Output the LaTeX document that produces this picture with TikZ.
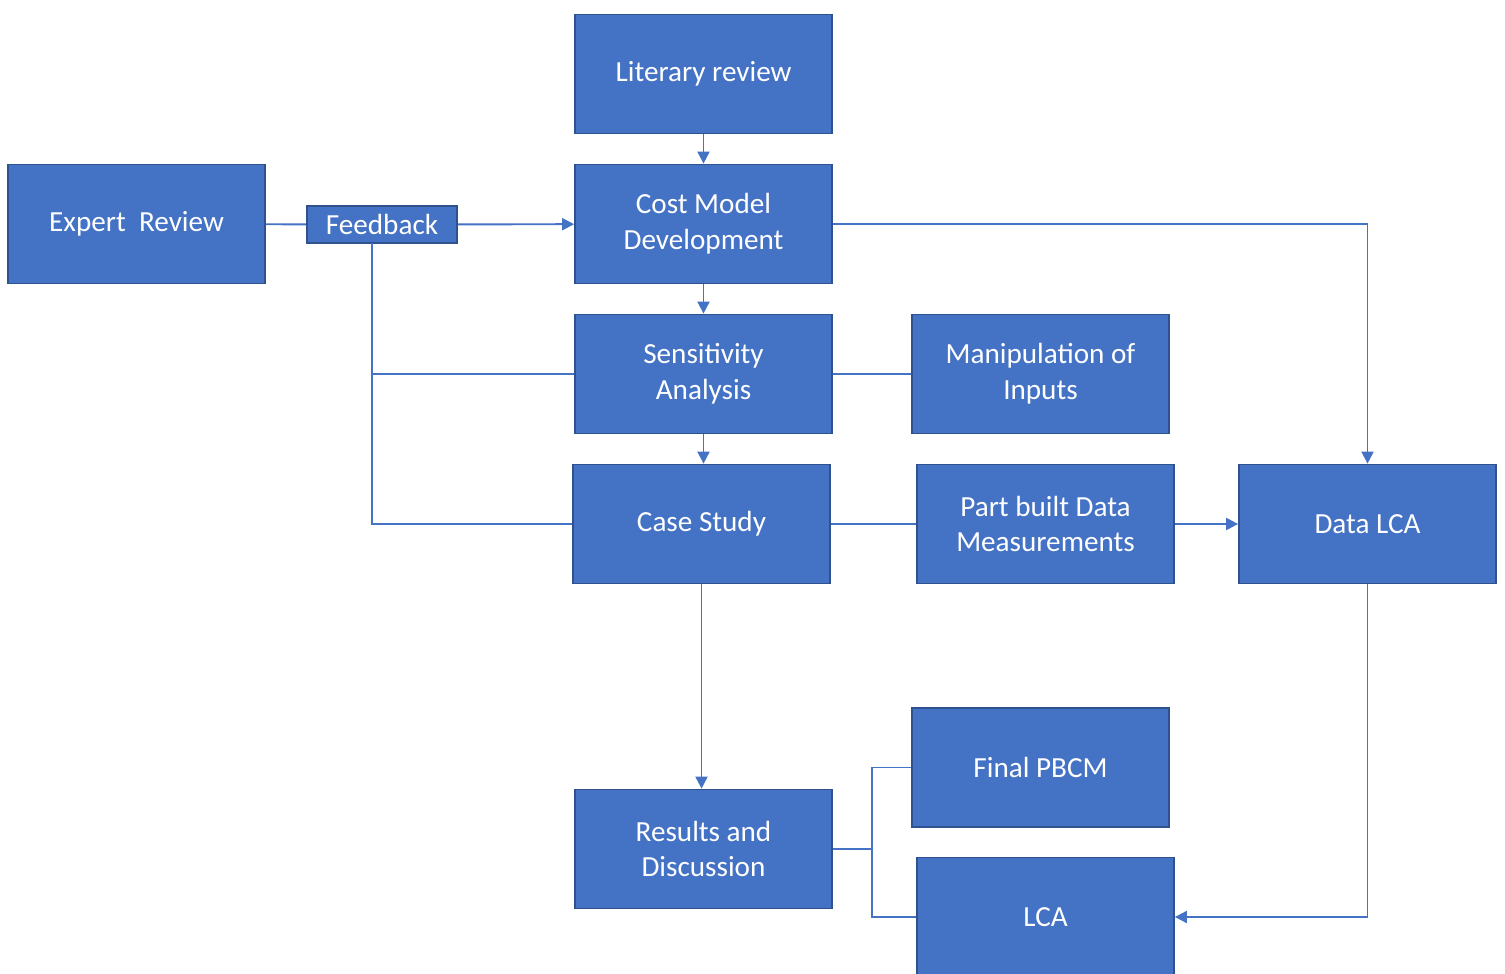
\documentclass[tikz,border=0pt]{standalone}
\usepackage{fontspec}
\setmainfont{Carlito}
\usepackage{xcolor}
\usetikzlibrary{arrows.meta}

\definecolor{boxblue}{HTML}{4472C4}
\definecolor{edgeblue}{HTML}{2F528F}

\begin{document}
\begin{tikzpicture}[
        block/.style={draw=edgeblue,line width=0.5pt,fill=boxblue,text=white,
            minimum width=2.57cm,minimum height=1.19cm,align=center,
            font=\fontsize{8.3}{10.2}\selectfont,inner sep=0pt},
        link/.style={draw=boxblue,line width=0.55pt},
        flow/.style={link,-{Triangle[length=1.2mm,width=1.2mm]}}
    ]
        \useasboundingbox (0,0) rectangle (15.05,-9.74);

        \node[block] (lit) at (7.035,-0.74) {Literary review};
        \node[block] (cost) at (7.035,-2.24) {Cost Model\\Development};
        \node[block] (expert) at (1.365,-2.24) {Expert~ Review};
        \node[block,minimum width=1.5cm,minimum height=0.37cm] (feedback) at (3.82,-2.245) {Feedback};
        \node[block] (sens) at (7.035,-3.74) {Sensitivity\\Analysis};
        \node[block] (manip) at (10.405,-3.74) {Manipulation of\\Inputs};
        \node[block] (case) at (7.015,-5.24) {Case Study};
        \node[block] (part) at (10.455,-5.24) {Part built Data\\Measurements};
        \node[block] (datalca) at (13.675,-5.24) {Data LCA};
        \node[block] (results) at (7.035,-8.49) {Results and\\Discussion};
        \node[block] (final) at (10.405,-7.675) {Final PBCM};
        \node[block] (lca) at (10.455,-9.17) {LCA};

        \coordinate (fb) at (3.72,-2.435);
        \coordinate (split) at (8.72,-8.49);

        \draw[flow] (lit) -- (cost);
        \draw[flow] (cost) -- (sens);
        \draw[flow] (sens.south) -- (sens.south |- case.north);
        \draw[link] (expert) -- (feedback);
        \draw[flow] (feedback) -- (cost);
        \draw[link] (fb) |- (case.west);
        \draw[link] (fb |- sens.west) -- (sens.west);
        \draw[link] (sens) -- (manip);
        \draw[link] (case) -- (part);
        \draw[flow] (part) -- (datalca);
        \draw[flow] (cost.east) -| (datalca.north);
        \draw[flow] (case.south) -- (case.south |- results.north);
        \draw[link] (results.east) -- (split);
        \draw[link] (final.west) -| (split) |- (lca.west);
        \draw[flow] (datalca.south) |- (lca.east);
    \end{tikzpicture}
\end{document}
